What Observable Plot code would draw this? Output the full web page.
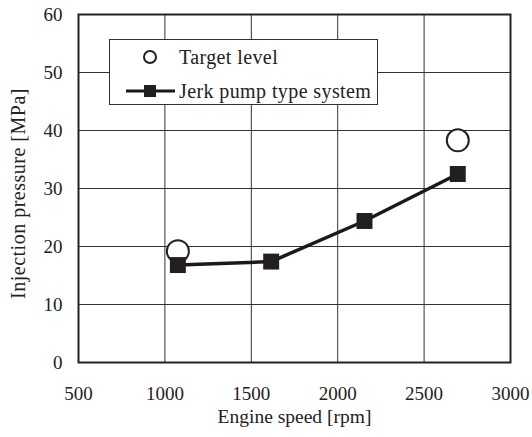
<!DOCTYPE html>
<html>
<head>
<meta charset="utf-8">
<script src="https://cdn.jsdelivr.net/npm/d3@7"></script>
<script src="https://cdn.jsdelivr.net/npm/@observablehq/plot@0.6"></script>
<style>
  html, body { margin: 0; padding: 0; background: #fff; }
  #wrap { position: relative; width: 532px; height: 437px; font-family: "Liberation Serif", serif; color: #222; }
  #legend { position: absolute; left: 109px; top: 39px; width: 269px; height: 66px; background: #fff; border: 1px solid #333; box-sizing: border-box; }
  #legend .row { position: absolute; left: 0; height: 24px; display: flex; align-items: center; font-family: "Liberation Serif", serif; font-size: 20px; letter-spacing: 0.4px; }
  #legend .row span { font-family: "Liberation Serif", serif; }
  #legend svg { display: block; margin-left: 15px; margin-right: 2px; }
</style>
</head>
<body>
<div id="wrap"></div>
<script>
// Engine speed (rpm) and injection pressure (MPa)
const targetSpeed = [1075, 2695];
const targetPressure = [19.2, 38.3];
const jerkSpeed = [1075, 1615, 2155, 2695];
const jerkPressure = [16.8, 17.4, 24.4, 32.5];
const xTicks = [500, 1000, 1500, 2000, 2500, 3000];
const yTicks = [0, 10, 20, 30, 40, 50, 60];

const target = targetSpeed.map((s, i) => ({speed: s, pressure: targetPressure[i]}));
const jerk = jerkSpeed.map((s, i) => ({speed: s, pressure: jerkPressure[i]}));

const ink = "#222";
const serif = "'Liberation Serif', serif";
const chart = Plot.plot({
  width: 532,
  height: 437,
  marginLeft: 78,
  marginRight: 22,
  marginTop: 14,
  marginBottom: 75,
  style: {fontFamily: serif, fontSize: "19px", color: ink, background: "#fff"},
  x: {domain: [500, 3000], ticks: xTicks},
  y: {domain: [0, 60], ticks: yTicks},
  marks: [
    Plot.gridX(xTicks, {stroke: "#333", strokeOpacity: 1, strokeWidth: 1}),
    Plot.gridY(yTicks, {stroke: "#333", strokeOpacity: 1, strokeWidth: 1}),
    Plot.axisX(xTicks, {tickSize: 0, tickPadding: 24, tickFormat: "d", label: null, fontSize: 19, fontFamily: serif}),
    Plot.axisY(yTicks, {tickSize: 0, tickPadding: 16, tickFormat: "d", label: null, fontSize: 19, fontFamily: serif}),
    Plot.text(["Engine speed [rpm]"], {frameAnchor: "bottom", dy: 60, fontSize: 19.5, fontFamily: serif, fill: ink}),
    Plot.text(["Injection pressure [MPa]"], {frameAnchor: "left", textAnchor: "middle", rotate: -90, dx: -60, dy: 5, fontSize: 20, fontFamily: serif, fill: ink}),
    Plot.frame({stroke: ink, strokeWidth: 2}),
    Plot.dot(target, {x: "speed", y: "pressure", r: 11, symbol: "circle", stroke: ink, strokeWidth: 2, fill: "#fff"}),
    Plot.line(jerk, {x: "speed", y: "pressure", stroke: "#1a1a1a", strokeWidth: 3.5}),
    Plot.dot(jerk, {x: "speed", y: "pressure", r: 9, symbol: "square", fill: "#231f20", stroke: "none"})
  ]
});

const wrap = document.getElementById("wrap");
wrap.appendChild(chart);
// widen the rotated axis title a little
d3.select(chart).selectAll("text").filter(function () { return this.textContent === "Injection pressure [MPa]"; }).style("letter-spacing", "0.5px");

// Legend box drawn over the plot area
const legend = document.createElement("div");
legend.id = "legend";
legend.innerHTML = `
  <div class="row" style="top:5px">
    <svg width="52" height="20"><circle cx="25" cy="10" r="6" fill="#fff" stroke="${ink}" stroke-width="2"/></svg>
    <span>Target level</span>
  </div>
  <div class="row" style="top:39px">
    <svg width="52" height="20"><line x1="1" x2="50" y1="10" y2="10" stroke="#1a1a1a" stroke-width="3"/><rect x="19" y="4" width="12" height="12" fill="#231f20"/></svg>
    <span>Jerk pump type system</span>
  </div>`;
wrap.appendChild(legend);
</script>
</body>
</html>
